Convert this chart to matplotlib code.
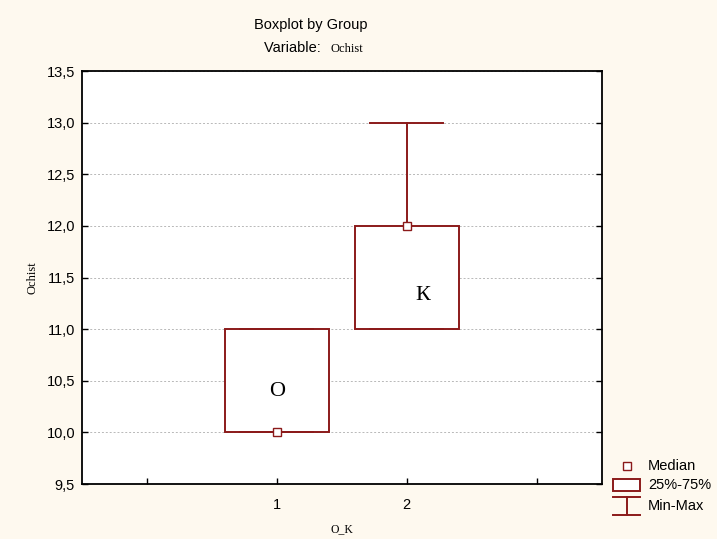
import matplotlib.pyplot as plt
import matplotlib.patches as mpatches
from matplotlib.lines import Line2D

# data
groups = [1, 2]
group_names = ["O", "К"]
mins = [10.0, 11.0]
q1 = [10.0, 11.0]
medians = [10.0, 12.0]
q3 = [11.0, 12.0]
maxs = [11.0, 13.0]
label_y = [10.4, 11.33]
label_x = [1.0, 2.12]

yticks = [9.5, 10.0, 10.5, 11.0, 11.5, 12.0, 12.5, 13.0, 13.5]
xticks = [0, 1, 2, 3]
xticklabels = ["", "1", "2", ""]

red = "#8b1a1a"
bg = "#fef9ef"
sans = ["Liberation Sans", "DejaVu Sans"]
serif = ["Liberation Serif", "DejaVu Serif"]

fig = plt.figure(figsize=(7.17, 5.39), dpi=100, facecolor=bg)
ax = fig.add_axes([0.1144, 0.102, 0.7246, 0.766])
ax.set_facecolor("white")

stats = []
for i in range(len(groups)):
    stats.append({"med": medians[i], "q1": q1[i], "q3": q3[i],
                  "whislo": mins[i], "whishi": maxs[i], "fliers": []})

ax.bxp(stats, positions=groups, widths=0.8, capwidths=0.56,
       showfliers=False, patch_artist=True,
       boxprops=dict(facecolor="white", edgecolor=red, linewidth=1.4),
       whiskerprops=dict(color=red, linewidth=1.4),
       capprops=dict(color=red, linewidth=1.4),
       medianprops=dict(linewidth=0))
ax.plot(groups, medians, ls="none", marker="s", ms=6, mfc="white",
        mec=red, mew=1.0, zorder=5)

for x, y, t in zip(label_x, label_y, group_names):
    ax.text(x, y, t, ha="center", va="center", fontsize=16, family=serif)

ax.set_xlim(-0.5, 3.5)
ax.set_ylim(9.5, 13.5)
ax.set_xticks(xticks)
ax.set_xticklabels(xticklabels, family=sans, fontsize=10.5)
ax.set_yticks(yticks)
ax.set_yticklabels([f"{v:.1f}".replace(".", ",") for v in yticks], family=sans, fontsize=10.5)
ax.tick_params(direction="in", length=4, width=1, right=True)
ax.tick_params(axis="y", pad=5)
ax.tick_params(axis="x", pad=10)
ax.grid(axis="y", ls=(0, (2, 2)), color="#b8b8b8", lw=0.7)
ax.set_axisbelow(True)
for s in ax.spines.values():
    s.set_linewidth(1.3)

ax.set_xlabel("O_K", family=serif, fontsize=8.5, labelpad=8)
ax.set_ylabel("Ochist", family=serif, fontsize=9, labelpad=6)

fig.text(0.434, 0.954, "Boxplot by Group", ha="center", va="center",
         family=sans, fontsize=10.5)
fig.text(0.453, 0.911, "Variable: ", ha="right", va="center",
         family=sans, fontsize=10.5)
fig.text(0.4616, 0.909, "Ochist", ha="left", va="center",
         family=serif, fontsize=9)

# legend drawn in its own axes
lax = fig.add_axes([0.8438, 0.026, 0.1562, 0.139])
lax.set_xlim(0, 1)
lax.set_ylim(0, 1)
lax.axis("off")
lax.plot([0.196], [0.787], ls="none", marker="s", ms=5.5, mfc="white", mec=red, mew=1.0)
lax.add_patch(mpatches.Rectangle((0.071, 0.453), 0.241, 0.16, fc="white", ec=red, lw=1.4))
lax.add_line(Line2D([0.071, 0.312], [0.373, 0.373], color=red, lw=1.4))
lax.add_line(Line2D([0.192, 0.192], [0.373, 0.133], color=red, lw=1.4))
lax.add_line(Line2D([0.071, 0.312], [0.133, 0.133], color=red, lw=1.4))
lax.text(0.384, 0.787, "Median", va="center", family=sans, fontsize=10.5)
lax.text(0.384, 0.533, "25%-75%", va="center", family=sans, fontsize=10.5)
lax.text(0.384, 0.253, "Min-Max", va="center", family=sans, fontsize=10.5)

fig.savefig("out.png", dpi=100, facecolor=bg)
